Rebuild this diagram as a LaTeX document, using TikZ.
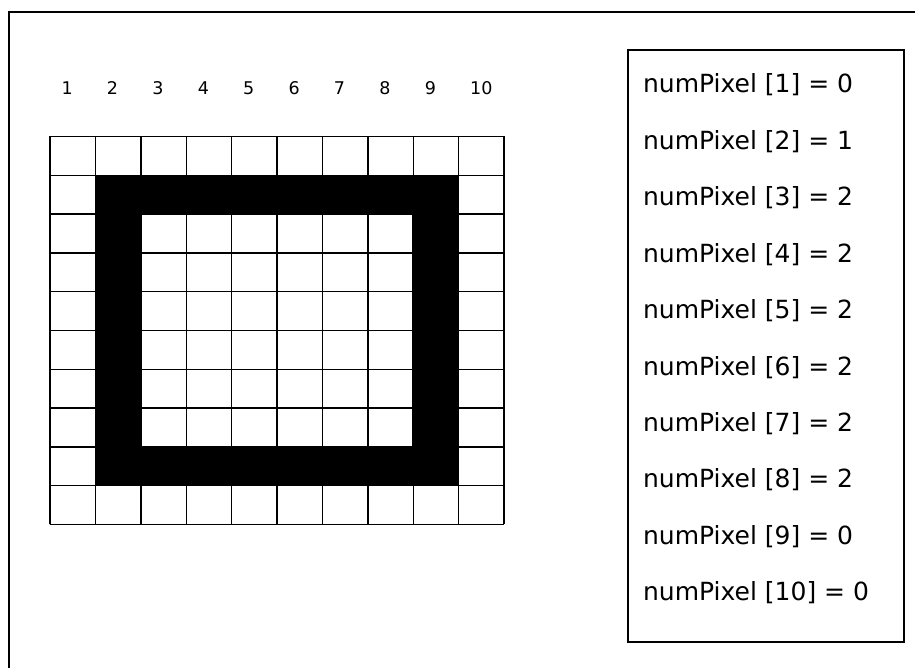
\documentclass[tikz,border=0pt]{standalone}
\usepackage{fontspec}
\usepackage{tikz}
\setmainfont{DejaVu Sans}

\begin{document}
\begin{tikzpicture}[x=45.4pt,y=38.8pt,
    collabel/.style={anchor=west,inner sep=0pt,font=\fontsize{17.5}{17.5}\selectfont},
    countlabel/.style={anchor=west,inner sep=0pt,font=\fontsize{25}{25}\selectfont}]
  \useasboundingbox (-1.1013,-3.6985) rectangle (19.0529,13.5180);
  % outer frame (only top and left edges show)
  \draw[line width=2pt] (-0.903,-3.8) -- (-0.903,13.196) -- (19.2,13.196);

  % pixel grid with the black ring
  \draw[line width=1.4pt,step=1] (0,0) grid (10,10);
  \fill (1,1) rectangle (9,9);
  \draw[line width=1.4pt,fill=white] (2,2) rectangle (8,8);
  \draw[line width=1.4pt,step=1] (2,2) grid (8,8);

  % column numbers
  \foreach \i in {1,...,10}
    \node[collabel] (col\i) at (\i-0.75,11.25) {\i};

  % count box
  \draw[line width=2pt] (12.731,-3.028) rectangle (18.811,12.229);
  \foreach \n/\v [count=\k from 0] in {1/0,2/1,3/2,4/2,5/2,6/2,7/2,8/2,9/0,10/0}
    \node[countlabel] (num\n) at (13.06,11.327-1.4547*\k) {numPixel [\n] = \v};
\end{tikzpicture}
\end{document}
